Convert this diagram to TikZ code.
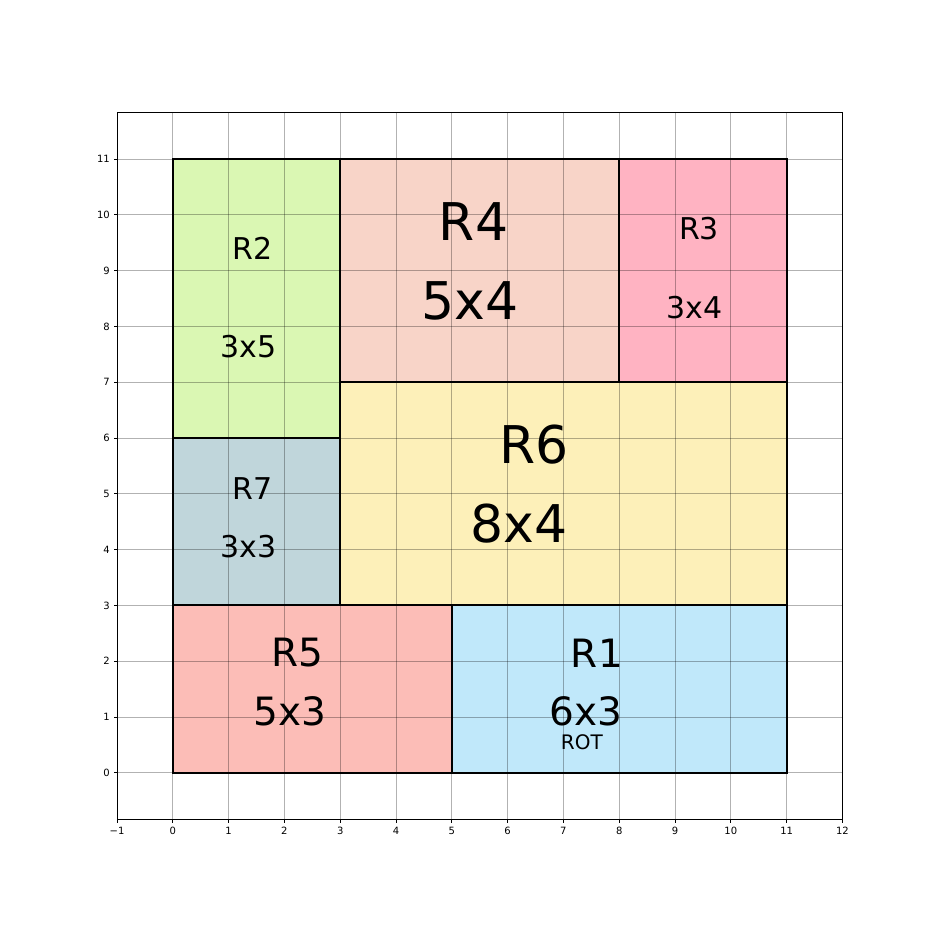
\documentclass[tikz,border=0pt]{standalone}
\usepackage{fontspec}
\setmainfont{DejaVu Sans}
\usepackage{tikz}
\definecolor{fillrtwo}{HTML}{DAF7B3}
\definecolor{fillrfour}{HTML}{F8D4C8}
\definecolor{fillrthree}{HTML}{FFB3C2}
\definecolor{fillrsix}{HTML}{FDF0B9}
\definecolor{fillrseven}{HTML}{C0D6DB}
\definecolor{fillrfive}{HTML}{FCBDB7}
\definecolor{fillrone}{HTML}{C0E8FA}
\tikzset{
  blockedge/.style={draw=black, line width=2pt},
  gridline/.style={black, opacity=0.3, line width=0.8pt},
  bigtxt/.style={inner sep=0pt, font=\fontsize{52}{60}\selectfont},
  midtxt/.style={inner sep=0pt, font=\fontsize{39}{45}\selectfont},
  smalltxt/.style={inner sep=0pt, font=\fontsize{30}{36}\selectfont},
  tinytxt/.style={inner sep=0pt, font=\fontsize{20}{24}\selectfont},
  ticklbl/.style={inner sep=0pt, font=\fontsize{10}{12}\selectfont}
}

\begin{document}
\begin{tikzpicture}[x=55.8pt, y=55.8pt]
    \useasboundingbox (-3.097,-2.925) rectangle (13.677,13.849);

    % --- Blocks (filled rectangles) ---
    \fill[fillrtwo]   (0,6) rectangle (3,11);
    \fill[fillrfour]  (3,7) rectangle (8,11);
    \fill[fillrthree] (8,7) rectangle (11,11);
    \fill[fillrsix]   (3,3) rectangle (11,7);
    \fill[fillrseven] (0,3) rectangle (3,6);
    \fill[fillrfive]  (0,0) rectangle (5,3);
    \fill[fillrone]   (5,0) rectangle (11,3);

    % --- Grid ---
    \foreach \gx in {-1,...,12}
      \draw[gridline] (\gx,-0.842) -- (\gx,11.842);
    \foreach \gy in {0,...,11}
      \draw[gridline] (-1,\gy) -- (12,\gy);

    % --- Block outlines ---
    \draw[blockedge] (0,6) rectangle (3,11);
    \draw[blockedge] (3,7) rectangle (8,11);
    \draw[blockedge] (8,7) rectangle (11,11);
    \draw[blockedge] (3,3) rectangle (11,7);
    \draw[blockedge] (0,3) rectangle (3,6);
    \draw[blockedge] (0,0) rectangle (5,3);
    \draw[blockedge] (5,0) rectangle (11,3);

    % --- Labels ---
    \node[smalltxt] (rtwo)    at (1.43, 9.39) {R2};
    \node[smalltxt] (rtwodim) at (1.36, 7.63) {3x5};
    \node[bigtxt]   (rfour)    at (5.39, 9.87) {R4};
    \node[bigtxt]   (rfourdim) at (5.32, 8.46) {5x4};
    \node[smalltxt] (rthree)    at (9.43, 9.75) {R3};
    \node[smalltxt] (rthreedim) at (9.35, 8.33) {3x4};
    \node[bigtxt]   (rsix)    at (6.47, 5.88) {R6};
    \node[bigtxt]   (rsixdim) at (6.20, 4.46) {8x4};
    \node[smalltxt] (rseven)    at (1.43, 5.09) {R7};
    \node[smalltxt] (rsevendim) at (1.36, 4.05) {3x3};
    \node[midtxt]   (rfive)    at (2.24, 2.15) {R5};
    \node[midtxt]   (rfivedim) at (2.10, 1.11) {5x3};
    \node[midtxt]   (rone)    at (7.60, 2.15) {R1};
    \node[midtxt]   (ronedim) at (7.40, 1.11) {6x3};
    \node[tinytxt]  (ronerot) at (7.33, 0.54) {ROT};

    % --- Axes frame and ticks ---
    \draw[black, line width=0.8pt] (-1,-0.842) rectangle (12,11.842);
    \foreach \gx/\lbl in {-1/−1,0/0,1/1,2/2,3/3,4/4,5/5,6/6,7/7,8/8,9/9,10/10,11/11,12/12} {
      \draw[black, line width=0.8pt] (\gx,-0.842) -- ++(0,-3.5pt);
      \node[ticklbl, anchor=north] (xt\gx) at ([yshift=-7pt]\gx,-0.842) {\lbl};
    }
    \foreach \gy in {0,...,11} {
      \draw[black, line width=0.8pt] (-1,\gy) -- ++(-3.5pt,0);
      \node[ticklbl, anchor=east] (yt\gy) at ([xshift=-7pt]-1,\gy) {\gy};
    }
\end{tikzpicture}
\end{document}
